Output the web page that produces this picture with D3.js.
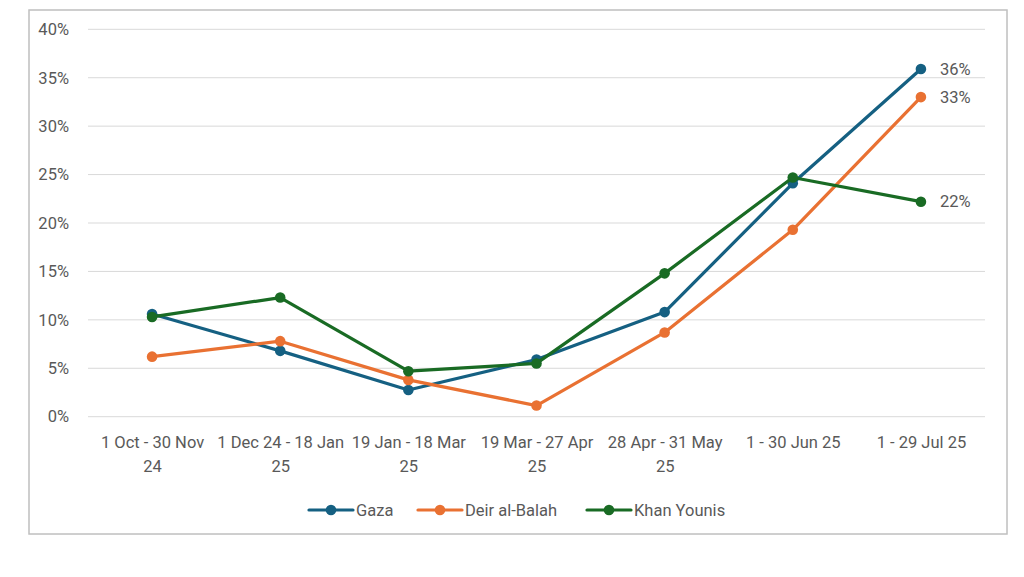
<!DOCTYPE html>
<html><head><meta charset="utf-8">
<script src="https://cdn.jsdelivr.net/npm/d3@7"></script>
<style>html,body{margin:0;padding:0;background:#fff;}svg{display:block;}</style>
</head><body>
<svg id="c" width="1024" height="577"></svg>
<script>
const categories = [["1 Oct - 30 Nov","24"],["1 Dec 24 - 18 Jan","25"],["19 Jan - 18 Mar","25"],["19 Mar - 27 Apr","25"],["28 Apr - 31 May","25"],["1 - 30 Jun 25"],["1 - 29 Jul 25"]];
const seriesNames = ["Gaza","Deir al-Balah","Khan Younis"];
const gaza = [10.6, 6.8, 2.75, 5.9, 10.8, 24.1, 35.9];
const deir = [6.2, 7.8, 3.8, 1.15, 8.7, 19.3, 33.0];
const khan = [10.3, 12.3, 4.7, 5.5, 14.8, 24.7, 22.2];
const yTicks = [0,5,10,15,20,25,30,35,40];
const colors = ["#156082","#E97132","#196B24"];
const seriesValues = [gaza, deir, khan];

const svg = d3.select("#c");
const font = "Roboto, 'Noto Sans', sans-serif";
const textColor = "#595959";
const fs = "16.5px";

svg.append("rect").attr("x",29).attr("y",10).attr("width",978).attr("height",524)
  .attr("fill","#fff").attr("stroke","#bfbfbf").attr("stroke-width",1.5);

const x = d3.scalePoint().domain(d3.range(categories.length)).range([88,985]).padding(0.5);
const y = d3.scaleLinear().domain([0,40]).range([416.7,29.3]);

// gridlines
svg.append("g").selectAll("line").data(yTicks).join("line")
  .attr("x1",88).attr("x2",985).attr("y1",d=>y(d)).attr("y2",d=>y(d))
  .attr("stroke","#d9d9d9").attr("stroke-width",1);

// y axis
const yAxis = d3.axisLeft(y).tickValues(yTicks).tickFormat(d=>d+"%").tickSize(0).tickPadding(0);
const yg = svg.append("g").attr("transform","translate(69,0)").call(yAxis);
yg.select(".domain").remove();
yg.selectAll("text").attr("fill",textColor).style("font-family",font).style("font-size",fs);

// x axis
const xAxis = d3.axisBottom(x).tickSize(0).tickFormat("");
const xg = svg.append("g").attr("transform","translate(0,416.7)").call(xAxis);
xg.select(".domain").remove();
xg.selectAll(".tick").each(function(i){
  const t = d3.select(this).append("text").attr("fill",textColor).attr("text-anchor","middle")
    .style("font-family",font).style("font-size",fs);
  categories[i].forEach((line,k)=>{
    t.append("tspan").attr("x",0).attr("y",26+k*24).attr("dy","0.35em").text(line);
  });
});

// lines
const line = d3.line().x((d,i)=>x(i)).y(d=>y(d));
seriesValues.forEach((vals,s)=>{
  const g = svg.append("g");
  g.append("path").datum(vals).attr("d",line).attr("fill","none")
    .attr("stroke",colors[s]).attr("stroke-width",3.2).attr("stroke-linejoin","round");
  g.selectAll("circle").data(vals).join("circle")
    .attr("cx",(d,i)=>x(i)).attr("cy",d=>y(d)).attr("r",5.3).attr("fill",colors[s]);
  const last = vals[vals.length-1];
  g.append("text").attr("x",x(vals.length-1)+19).attr("y",y(last)).attr("dy","0.35em")
    .attr("fill",textColor).style("font-family",font).style("font-size",fs)
    .text(Math.round(last)+"%");
});

// legend
const legendX = [309, 418, 587];
const lg = svg.append("g").attr("transform","translate(0,510)");
seriesNames.forEach((n,s)=>{
  const gg = lg.append("g").attr("transform",`translate(${legendX[s]},0)`);
  gg.append("line").attr("x1",0).attr("x2",44).attr("y1",0).attr("y2",0)
    .attr("stroke",colors[s]).attr("stroke-width",3.2).attr("stroke-linecap","round");
  gg.append("circle").attr("cx",22).attr("cy",0).attr("r",5.3).attr("fill",colors[s]);
  gg.append("text").attr("x",47).attr("y",0).attr("dy","0.35em").attr("fill",textColor)
    .style("font-family",font).style("font-size",fs).text(n);
});
</script>
</body></html>
